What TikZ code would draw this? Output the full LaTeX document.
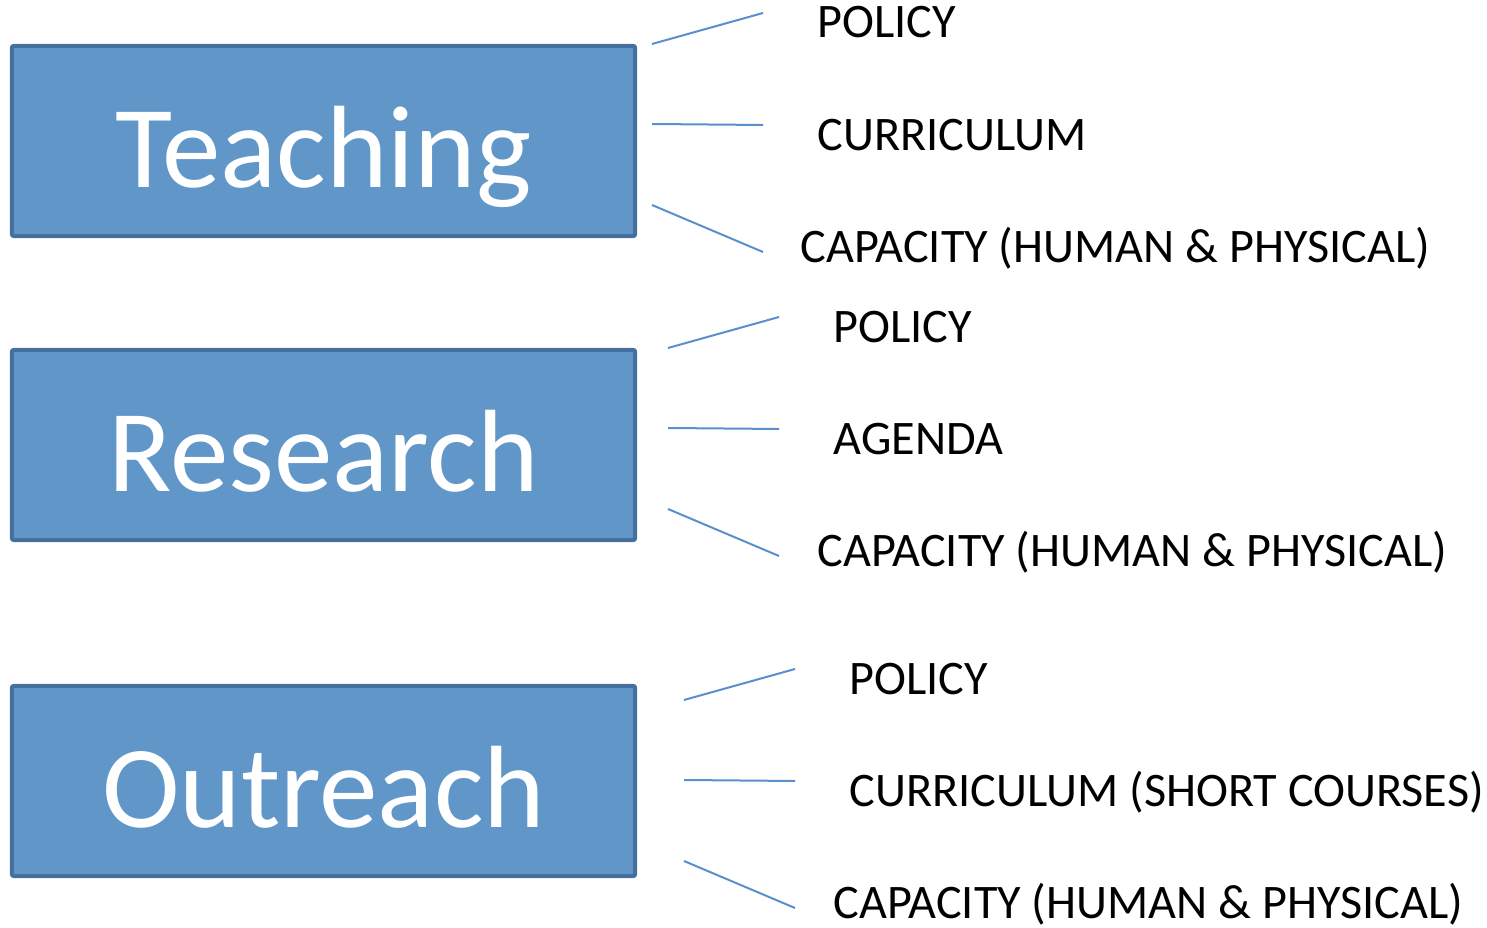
\documentclass[tikz,border=0pt]{standalone}
\usepackage{fontspec}
\setmainfont{Carlito}
\definecolor{boxfill}{RGB}{97,150,200}
\definecolor{boxline}{RGB}{70,111,160}
\definecolor{conn}{RGB}{91,143,203}
\begin{document}
\begin{tikzpicture}[x=0.01cm,y=-0.01cm,
  bigbox/.style={draw=boxline,fill=boxfill,line width=0.04cm,rounded corners=0.02cm,
    minimum width=6.23cm,minimum height=1.90cm,inner sep=0pt,
    text=white,font=\fontsize{33.3}{40}\selectfont,text height=26.2pt,text depth=0pt},
  lbl/.style={anchor=base west,inner sep=0pt,font=\fontsize{13.7}{16}\selectfont},
  conline/.style={draw=conn,line width=0.02cm}]
\useasboundingbox (0,0) rectangle (1487,928);
% boxes
\node[bigbox] (teach) at (323.5,141) {Teaching};
\node[bigbox] (res) at (323.5,445) {Research};
\node[bigbox] (out) at (323.5,781) {Outreach};
% Teaching
\coordinate (t1a) at (652,44); \coordinate (t1b) at (763,13);
\coordinate (t2a) at (652,124); \coordinate (t2b) at (763,125);
\coordinate (t3a) at (652,205); \coordinate (t3b) at (763,252);
\draw[conline] (t1a) -- (t1b);
\draw[conline] (t2a) -- (t2b);
\draw[conline] (t3a) -- (t3b);
\node[lbl] (tp) at (817,38) {POLICY};
\node[lbl] (tc) at (817,151) {CURRICULUM};
\node[lbl] (tk) at (800,263) {CAPACITY (HUMAN \& PHYSICAL)};
% Research
\coordinate (r1a) at (668,348); \coordinate (r1b) at (779,317);
\coordinate (r2a) at (668,428); \coordinate (r2b) at (779,429);
\coordinate (r3a) at (668,509); \coordinate (r3b) at (779,556);
\draw[conline] (r1a) -- (r1b);
\draw[conline] (r2a) -- (r2b);
\draw[conline] (r3a) -- (r3b);
\node[lbl] (rp) at (833,343) {POLICY};
\node[lbl] (ra) at (833,455) {AGENDA};
\node[lbl] (rk) at (817,567) {CAPACITY (HUMAN \& PHYSICAL)};
% Outreach
\coordinate (o1a) at (684,700); \coordinate (o1b) at (795,669);
\coordinate (o2a) at (684,780); \coordinate (o2b) at (795,781);
\coordinate (o3a) at (684,861); \coordinate (o3b) at (795,908);
\draw[conline] (o1a) -- (o1b);
\draw[conline] (o2a) -- (o2b);
\draw[conline] (o3a) -- (o3b);
\node[lbl] (op) at (849,695) {POLICY};
\node[lbl] (oc) at (849,807) {CURRICULUM (SHORT COURSES)};
\node[lbl] (ok) at (833,919) {CAPACITY (HUMAN \& PHYSICAL)};
\end{tikzpicture}
\end{document}
